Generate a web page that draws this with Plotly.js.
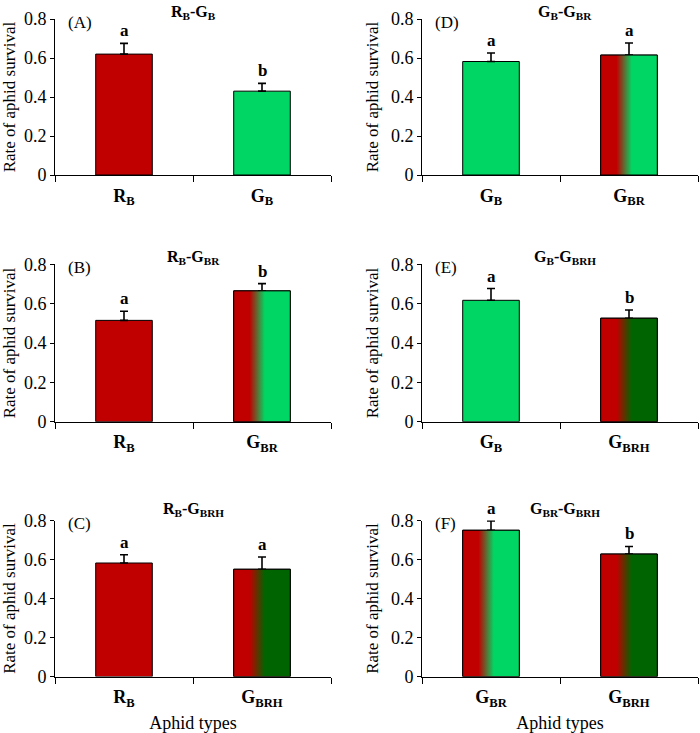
<!DOCTYPE html>
<html>
<head>
<meta charset="utf-8">
<script src="https://cdn.plot.ly/plotly-3.0.1.min.js"></script>
<style>html,body{margin:0;padding:0;background:#fff;}#chart{width:700px;height:733px;}</style>
</head>
<body>
<div id="chart"></div>
<script>
// ---- data ----
const panelIds    = ['(A)', '(B)', '(C)', '(D)', '(E)', '(F)'];
const panelTitles = ['R<sub>B</sub>-G<sub>B</sub>', 'R<sub>B</sub>-G<sub>BR</sub>', 'R<sub>B</sub>-G<sub>BRH</sub>',
                     'G<sub>B</sub>-G<sub>BR</sub>', 'G<sub>B</sub>-G<sub>BRH</sub>', 'G<sub>BR</sub>-G<sub>BRH</sub>'];
const aphidTypesA = ['RB', 'GB'];
const aphidTypesB = ['RB', 'GBR'];
const aphidTypesC = ['RB', 'GBRH'];
const aphidTypesD = ['GB', 'GBR'];
const aphidTypesE = ['GB', 'GBRH'];
const aphidTypesF = ['GBR', 'GBRH'];
const survivalA = [0.62, 0.43];
const survivalB = [0.515, 0.665];
const survivalC = [0.582, 0.550];
const survivalD = [0.582, 0.615];
const survivalE = [0.617, 0.526];
const survivalF = [0.750, 0.628];
const errorA = [0.055, 0.040];
const errorB = [0.046, 0.037];
const errorC = [0.042, 0.063];
const errorD = [0.044, 0.062];
const errorE = [0.060, 0.042];
const errorF = [0.048, 0.039];
const lettersA = ['a', 'b'];
const lettersB = ['a', 'b'];
const lettersC = ['a', 'a'];
const lettersD = ['a', 'a'];
const lettersE = ['a', 'b'];
const lettersF = ['a', 'b'];
const typeLabels = {RB: 'R<sub>B</sub>', GB: 'G<sub>B</sub>', GBR: 'G<sub>BR</sub>', GBRH: 'G<sub>BRH</sub>'};
const yTicks = [0, 0.2, 0.4, 0.6, 0.8];
const yTickText = ['0', '0.2', '0.4', '0.6', '0.8'];

// ---- styles ----
const RED = '#C00000', LGREEN = '#00D663', DGREEN = '#006400';
const solidColor = {RB: RED, GB: LGREEN, GBR: RED, GBRH: RED};
const gradientEnd = {GBR: LGREEN, GBRH: DGREEN};
const SERIF = '"Liberation Serif", "Times New Roman", Times, serif';
const BAR_W = 0.41;

const panels = [
  {types: aphidTypesA, vals: survivalA, errs: errorA, letters: lettersA},
  {types: aphidTypesB, vals: survivalB, errs: errorB, letters: lettersB},
  {types: aphidTypesC, vals: survivalC, errs: errorC, letters: lettersC},
  {types: aphidTypesD, vals: survivalD, errs: errorD, letters: lettersD},
  {types: aphidTypesE, vals: survivalE, errs: errorE, letters: lettersE},
  {types: aphidTypesF, vals: survivalF, errs: errorF, letters: lettersF}
];

// layout geometry (pixels -> paper fractions)
const W = 700, H = 733;
const colX = [[55, 331], [422, 698]];
const rowY = [[19, 175], [264.3, 421.7], [520.5, 676.5]];
const titleShift = [7, 7, 11];

const traces = [];
const layout = {
  width: W, height: H,
  margin: {l: 0, r: 0, t: 0, b: 0},
  paper_bgcolor: '#fff', plot_bgcolor: '#fff',
  showlegend: false,
  font: {family: SERIF, color: '#000'},
  annotations: []
};

panels.forEach((p, i) => {
  const col = i < 3 ? 0 : 1;
  const row = i % 3;
  const n = i + 1;
  const xa = 'x' + (n === 1 ? '' : n), ya = 'y' + (n === 1 ? '' : n);
  const xKey = 'xaxis' + (n === 1 ? '' : n), yKey = 'yaxis' + (n === 1 ? '' : n);
  const idx = p.types.map((_, k) => k);

  layout[xKey] = {
    domain: [colX[col][0] / W, colX[col][1] / W],
    anchor: ya, range: [-0.5, 1.5], type: 'linear',
    tickvals: idx, ticktext: p.types.map(t => '<b>' + typeLabels[t] + '</b>'),
    ticks: '', ticklabelstandoff: 4,
    tickfont: {family: SERIF, size: 18, color: '#000'},
    minor: {tickvals: [-0.5, 0.5, 1.5], ticks: 'outside', ticklen: 6, tickcolor: '#000', tickwidth: 1, showgrid: false},
    showline: true, linecolor: '#000', linewidth: 1,
    showgrid: false, zeroline: false, fixedrange: true
  };
  if (row === 2) {
    layout[xKey].title = {text: 'Aphid types', font: {family: SERIF, size: 18, color: '#000'}};
  }
  layout[yKey] = {
    domain: [1 - rowY[row][1] / H, 1 - rowY[row][0] / H],
    anchor: xa, range: [0, 0.8],
    tickvals: yTicks, ticktext: yTickText,
    ticks: 'outside', ticklen: 4, tickcolor: '#000', tickwidth: 1,
    tickfont: {family: SERIF, size: 18, color: '#000'},
    showline: true, linecolor: '#000', linewidth: 1,
    showgrid: false, zeroline: false, fixedrange: true,
    title: {text: 'Rate of aphid survival', font: {family: SERIF, size: 17, color: '#000'}}
  };

  traces.push({
    type: 'bar', x: idx, y: p.vals, width: BAR_W,
    xaxis: xa, yaxis: ya,
    marker: {color: p.types.map(t => solidColor[t]), line: {color: '#000', width: 1}},
    error_y: {type: 'data', array: p.errs, arrayminus: p.errs.map(() => 0), symmetric: false,
              color: '#000', thickness: 1.6, width: 4},
    hoverinfo: 'skip'
  });

  p.types.forEach((t, k) => {
    if (gradientEnd[t]) {
      const x0 = k - BAR_W / 2, x1 = k + BAR_W / 2;
      traces.push({
        type: 'scatter', mode: 'lines', xaxis: xa, yaxis: ya,
        x: [x0, x0, x1, x1, x0], y: [0, p.vals[k], p.vals[k], 0, 0],
        fill: 'toself',
        fillgradient: {type: 'horizontal',
          colorscale: [[0, RED], [0.28, RED], [0.55, gradientEnd[t]], [1, gradientEnd[t]]]},
        line: {color: '#000', width: 1},
        hoverinfo: 'skip'
      });
    }
    layout.annotations.push({
      xref: xa, yref: ya, x: k, y: p.vals[k] + p.errs[k],
      text: '<b>' + p.letters[k] + '</b>', showarrow: false,
      yanchor: 'bottom', yshift: 1,
      font: {family: SERIF, size: 17, color: '#000'}
    });
  });

  layout.annotations.push({
    xref: xa + ' domain', yref: ya + ' domain', x: 0.5, y: 1,
    xshift: col === 1 ? 5 : 0, yshift: titleShift[row],
    xanchor: 'center', yanchor: 'middle',
    text: '<b>' + panelTitles[i] + '</b>', showarrow: false,
    font: {family: SERIF, size: 16, color: '#000'}
  });
  layout.annotations.push({
    xref: xa + ' domain', yref: ya + ' domain', x: 0, y: 1,
    xshift: 11, yshift: -3, xanchor: 'left', yanchor: 'middle',
    text: panelIds[i], showarrow: false,
    font: {family: SERIF, size: 17, color: '#000'}
  });
});

Plotly.newPlot('chart', traces, layout, {staticPlot: true, displayModeBar: false});
</script>
</body>
</html>
